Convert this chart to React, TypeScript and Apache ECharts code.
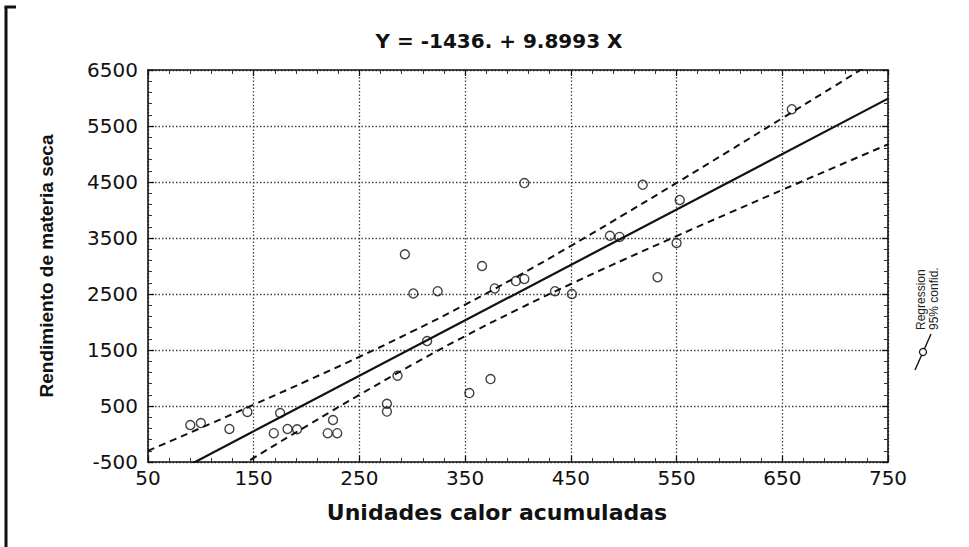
import React, { useEffect, useRef } from "react";
import * as echarts from "echarts";

// Observed points (Unidades calor acumuladas, Rendimiento de materia seca)
const pointX = [90, 100, 127, 144, 169, 175, 182, 191, 220, 225, 229, 276, 276, 286, 293, 301, 314, 324, 354, 366, 374, 378, 398, 406, 406, 435, 451, 487, 496, 518, 532, 550, 553, 659];
const pointY = [160, 195, 90, 395, 15, 375, 90, 85, 15, 250, 15, 540, 400, 1040, 3210, 2510, 1660, 2550, 730, 3000, 980, 2600, 2730, 2770, 4480, 2550, 2500, 3540, 3520, 4450, 2800, 3410, 4180, 5800];

// Regression line Y = -1436. + 9.8993 X, end points
const regX = [50, 750];
const regY = [-941, 5989];

// 95% confidence band
const bandX = [50, 100, 150, 200, 250, 300, 350, 400, 450, 500, 550, 600, 650, 700, 750];
const bandUpper = [-301, 109, 524, 946, 1379, 1831, 2310, 2821, 3359, 3916, 4484, 5059, 5639, 6221, 6806];
const bandLower = [-1581, -1001, -426, 142, 699, 1237, 1748, 2227, 2679, 3112, 3534, 3949, 4359, 4767, 5172];

const titleText = "Y = -1436. + 9.8993 X";
const xName = "Unidades calor acumuladas";
const yName = "Rendimiento de materia seca";
const legendLines = ["Regression", "95% confid."];

const ink = "#111";

export default function App() {
  const ref = useRef<HTMLDivElement>(null);
  useEffect(() => {
    const chart = echarts.init(ref.current!, null, { renderer: "svg" });
    const axisCommon = {
      type: "value" as const,
      axisLine: { show: true, onZero: false, lineStyle: { color: ink, width: 1.6 } },
      axisTick: { show: true, inside: true, length: 6, lineStyle: { color: ink, width: 1.2 } },
      minorTick: { show: true, splitNumber: 5, length: 4, lineStyle: { color: "#333", width: 1 } },
    };
    const split = { show: true, lineStyle: { type: [1.5, 2] as any, color: "#444", width: 1.3 } };
    const plain = (v: number) => String(v);
    chart.setOption({
      animation: false,
      backgroundColor: "#fff",
      title: {
        text: titleText,
        left: 494,
        textAlign: "center",
        top: 26,
        textStyle: { fontFamily: "DejaVu Sans", fontWeight: "bold", fontSize: 20, color: ink },
      },
      grid: { left: 148, right: 81, top: 70, bottom: 85 },
      xAxis: [
        {
          ...axisCommon,
          min: 50,
          max: 750,
          interval: 100,
          position: "bottom",
          splitLine: split,
          axisLabel: { fontFamily: "DejaVu Sans", fontSize: 20, color: ink, margin: 6, formatter: plain },
          name: xName,
          nameLocation: "middle",
          nameGap: 39,
          nameTextStyle: { fontFamily: "DejaVu Sans", fontWeight: "bold", fontSize: 22, color: ink, padding: [0, 42, 0, 0] },
        },
        {
          ...axisCommon,
          min: 50,
          max: 750,
          interval: 100,
          position: "top",
          splitLine: { show: false },
          axisLabel: { show: false },
        },
      ],
      yAxis: [
        {
          ...axisCommon,
          min: -500,
          max: 6500,
          interval: 1000,
          position: "left",
          splitLine: split,
          axisLabel: { fontFamily: "DejaVu Sans", fontSize: 20, color: ink, margin: 10, formatter: plain },
          name: yName,
          nameLocation: "middle",
          nameGap: 92,
          nameTextStyle: { fontFamily: "Liberation Sans", fontWeight: "bold", fontSize: 19, color: ink },
        },
        {
          ...axisCommon,
          min: -500,
          max: 6500,
          interval: 1000,
          position: "right",
          splitLine: { show: false },
          axisLabel: { show: false },
        },
      ],
      series: [
        {
          type: "line",
          data: bandX.map((x, i) => [x, bandUpper[i]]),
          smooth: true,
          showSymbol: false,
          lineStyle: { color: ink, width: 2, type: [7, 5] as any },
          z: 3,
        },
        {
          type: "line",
          data: bandX.map((x, i) => [x, bandLower[i]]),
          smooth: true,
          showSymbol: false,
          lineStyle: { color: ink, width: 2, type: [7, 5] as any },
          z: 3,
        },
        {
          type: "line",
          data: regX.map((x, i) => [x, regY[i]]),
          showSymbol: false,
          lineStyle: { color: ink, width: 2.2 },
          z: 4,
        },
        {
          type: "scatter",
          data: pointX.map((x, i) => [x, pointY[i]]),
          symbol: "circle",
          symbolSize: 9,
          itemStyle: { color: "rgba(255,255,255,0)", borderColor: ink, borderWidth: 1.4 },
          z: 5,
        },
      ],
      graphic: [
        { type: "line", shape: { x1: 6, y1: 7, x2: 6, y2: 547 }, style: { stroke: ink, lineWidth: 3 } },
        { type: "line", shape: { x1: 4.5, y1: 7, x2: 16, y2: 7 }, style: { stroke: ink, lineWidth: 3 } },
        {
          type: "text",
          x: 921,
          y: 330,
          rotation: Math.PI / 2,
          style: { text: legendLines[0], font: "12px 'Liberation Sans'", fill: "#222", align: "left", verticalAlign: "middle" },
        },
        {
          type: "text",
          x: 934,
          y: 330,
          rotation: Math.PI / 2,
          style: { text: legendLines[1], font: "12px 'Liberation Sans'", fill: "#222", align: "left", verticalAlign: "middle" },
        },
        { type: "line", shape: { x1: 915, y1: 370, x2: 931, y2: 334 }, style: { stroke: ink, lineWidth: 1.4 } },
        { type: "circle", shape: { cx: 923, cy: 352, r: 3.5 }, style: { fill: "#fff", stroke: ink, lineWidth: 1.2 } },
      ],
    });
    return () => chart.dispose();
  }, []);
  return <div ref={ref} style={{ width: 969, height: 547, position: "fixed", left: 0, top: 0 }} />;
}
